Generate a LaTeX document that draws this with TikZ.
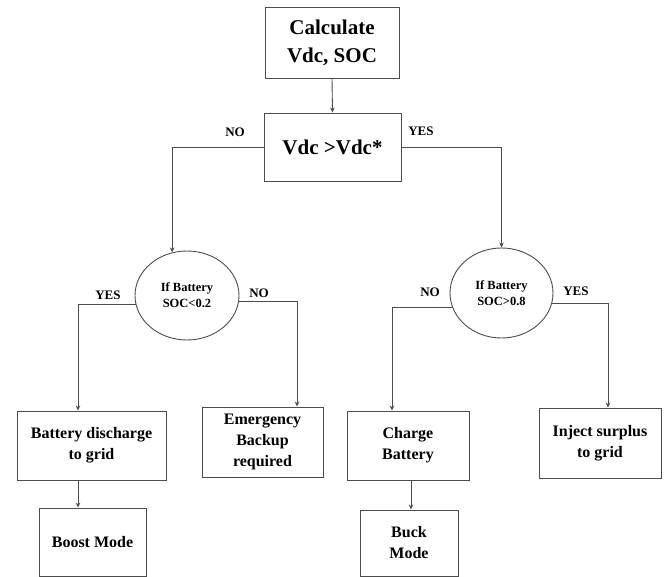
\documentclass[tikz,border=0pt]{standalone}
\usepackage{fontspec}
\setmainfont{Liberation Serif}
\usetikzlibrary{shapes.geometric,arrows.meta,calc}
\begin{document}
\begin{tikzpicture}[x=1pt,y=-1pt,
  line/.style={draw=black!70,line width=0.9pt},
  arr/.style={line,-{Stealth[length=5pt,width=4.5pt]}},
  box/.style={line,rectangle,inner sep=0pt,align=center,font=\bfseries\fontsize{16}{21}\selectfont},
  bigbox/.style={box,font=\bfseries\fontsize{21}{28}\selectfont},
  ell/.style={line,ellipse,inner sep=0pt,align=center,font=\bfseries\fontsize{12.5}{16}\selectfont},
  lbl/.style={font=\bfseries\fontsize{13}{15}\selectfont,inner sep=0pt}]
\useasboundingbox (0,0) rectangle (667,577);
\node[bigbox,minimum width=134,minimum height=71] (calc) at (332,42.5) {Calculate\\Vdc, SOC};
\node[bigbox,minimum width=137,minimum height=68] (vdc) at (332.5,147) {Vdc >Vdc*};
\node[ell,minimum width=104,minimum height=89] (ell) at (187,295.5) {If Battery\\SOC<0.2};
\node[ell,minimum width=103,minimum height=90] (elr) at (501.5,293) {If Battery\\SOC>0.8};
\node[box,minimum width=149,minimum height=69] (bd) at (91.5,445.5) {Battery discharge\\to grid};
\node[box,minimum width=107,minimum height=68] (boost) at (92.5,542) {Boost Mode};
\node[box,minimum width=121,minimum height=70] (emg) at (262.5,442) {Emergency\\Backup\\required};
\node[box,minimum width=122,minimum height=69] (chg) at (408,445.5) {Charge\\Battery};
\node[box,minimum width=98,minimum height=66] (buck) at (409,543) {Buck\\Mode};
\node[box,minimum width=122,minimum height=70] (inj) at (600,443) {Inject surplus\\to grid};
\node[lbl] (no1) at (235,132) {NO};
\node[lbl] (yes1) at (421,131) {YES};
\node[lbl] (yes2) at (108,295) {YES};
\node[lbl] (no2) at (259,293) {NO};
\node[lbl] (no3) at (430,292) {NO};
\node[lbl] (yes3) at (576,291) {YES};
\draw[arr] (calc.south) -- (vdc.north);
\draw[arr] (vdc.west) -| (ell.109.4);
\draw[arr] (vdc.east) -| (elr.north);
\draw[arr] (ell.190.6) -| ([xshift=-13.5pt]bd.north);
\draw[arr] (ell.354) -| ([xshift=34.5pt]emg.north);
\draw[arr] (elr.196) -| ([xshift=-16pt]chg.north);
\draw[arr] (elr.348) -| ([xshift=8pt]inj.north);
\draw[arr] ([xshift=-13.5pt]bd.south) -- ([xshift=-14.5pt]boost.north);
\draw[arr] ([xshift=3pt]chg.south) -- ([xshift=2pt]buck.north);
\end{tikzpicture}
\end{document}
